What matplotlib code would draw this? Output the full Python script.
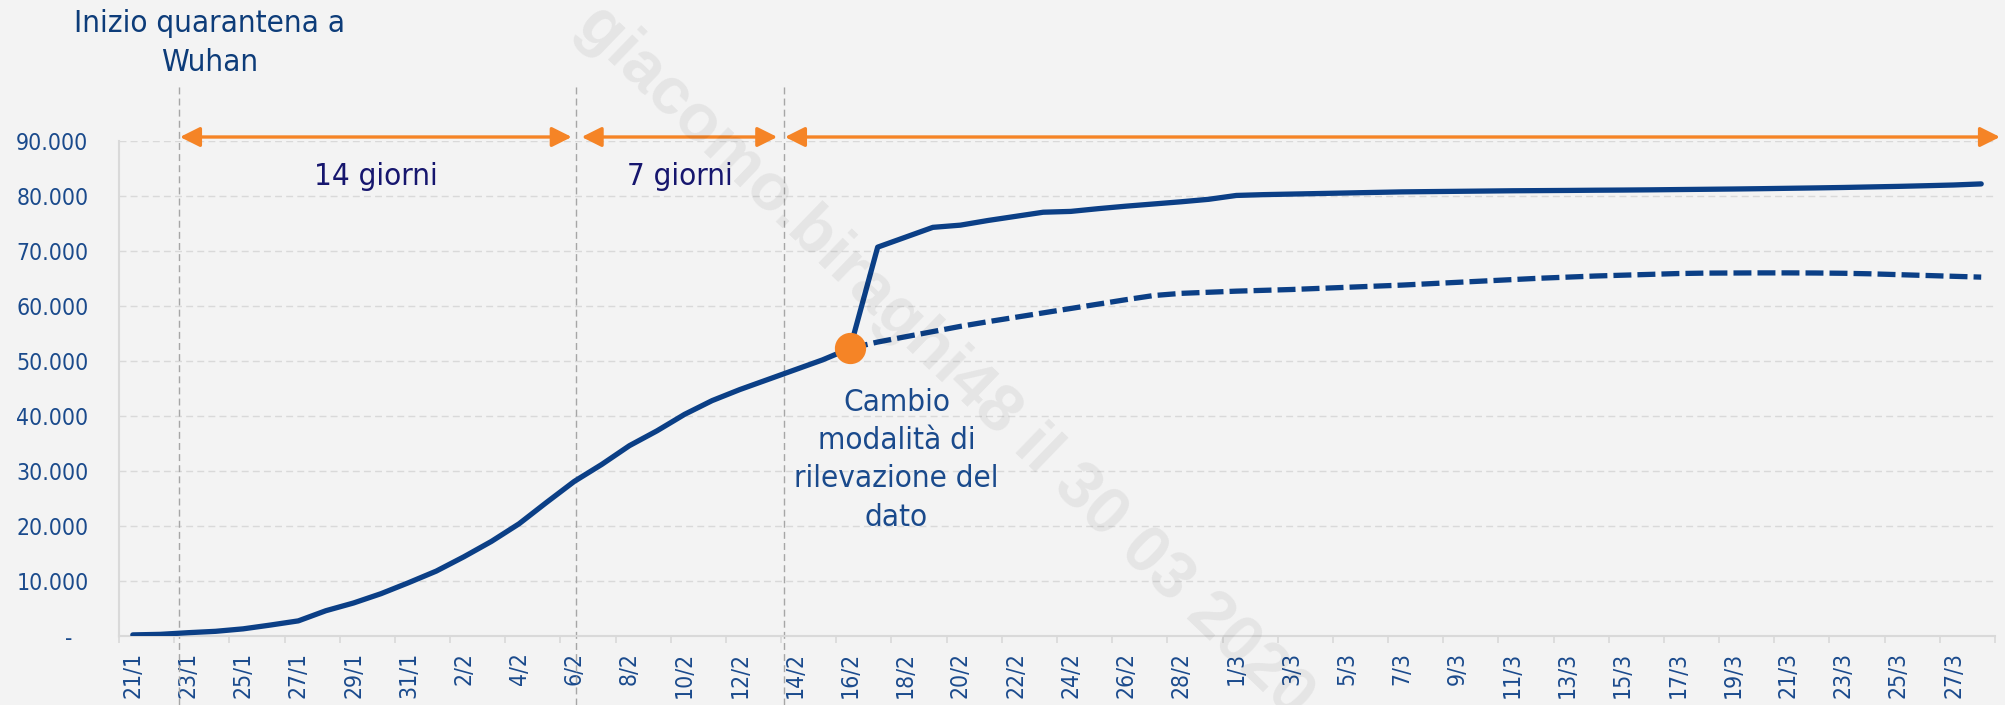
import matplotlib
matplotlib.use("Agg")
import matplotlib.pyplot as plt
from matplotlib import font_manager as fm
from matplotlib.ticker import FuncFormatter, FixedLocator
from matplotlib.transforms import blended_transform_factory
import pandas as pd

# ---------------- data ----------------
dates = pd.date_range("2020-01-21", "2020-03-28", freq="D")
date_labels = [f"{d.day}/{d.month}" for d in dates]

confirmed = [
    200, 300, 600, 850, 1300, 2000, 2750, 4600, 6000, 7700,
    9700, 11800, 14400, 17200, 20400, 24300, 28100, 31200, 34600, 37300,
    40300, 42800, 44800, 46600, 48400, 50200, 52300, 70700, 72500, 74300,
    74700, 75550, 76300, 77050, 77200, 77700, 78150, 78550, 78950, 79400,
    80100, 80250, 80350, 80450, 80550, 80650, 80750, 80800, 80850, 80900,
    80950, 80980, 81010, 81050, 81080, 81120, 81170, 81220, 81270, 81330,
    81400, 81470, 81550, 81650, 81750, 81870, 82000, 82200,
]

change_label = "16/2"
projection = [
    52300, 53450, 54400, 55350, 56300, 57150, 57950, 58750, 59550, 60350,
    61150, 61900, 62300, 62500, 62700, 62850, 63000, 63200, 63400, 63600,
    63800, 64050, 64300, 64550, 64800, 65050, 65250, 65450, 65600, 65750,
    65900, 65980, 66000, 66020, 66020, 66000, 65950, 65850, 65700, 65550,
    65400, 65250,
]

event_positions = [1.675, 16.065, 23.604]          # dashed vertical markers (category units)
span_arrows = [(1.711, 15.91), (16.27, 23.36), (23.64, 67.68)]
span_labels = ["14 giorni", "7 giorni", None]

title_text = "Inizio quarantena a\nWuhan"
change_text = "Cambio\nmodalità di\nrilevazione del\ndato"
watermark = "giacomo.biraghi48 il 30 03 2020"

# ---------------- style ----------------
BG = "#f3f3f3"
NAVY = "#0b3f86"
ORANGE = "#f58426"
TICKC = "#1a4a8c"
GRID = "#d9d9d9"

cond = [f for f in fm.fontManager.ttflist
        if f.name == "DejaVu Sans" and f.stretch == "condensed"
        and f.style == "normal" and str(f.weight) in ("400", "normal", "regular", "book")]
if cond:
    plt.rcParams["font.family"] = "DejaVu Sans"
    plt.rcParams["font.stretch"] = "condensed"
else:
    plt.rcParams["font.family"] = ["Liberation Sans", "DejaVu Sans"]

W, H = 2006, 705
fig = plt.figure(figsize=(W / 100, H / 100), dpi=100, facecolor=BG)
ax = fig.add_axes([119 / W, 69 / H, (1995 - 119) / W, (636 - 141) / H])
ax.set_facecolor(BG)

n = len(date_labels)
x = list(range(n))
start = date_labels.index(change_label)
xp = list(range(start, start + len(projection)))

ax.set_xlim(-0.5, n - 0.5)
ax.set_ylim(0, 90000)

# grid
ax.set_axisbelow(True)
ax.yaxis.set_major_locator(FixedLocator(range(0, 90001, 10000)))
ax.yaxis.grid(True, color=GRID, linewidth=1.0, linestyle=(0, (5, 3)))
ax.xaxis.grid(False)

# lines
ax.plot(x, confirmed, color=NAVY, lw=3.8, solid_capstyle="round",
        solid_joinstyle="round", zorder=3)
ax.plot(xp, projection, color=NAVY, lw=3.8, dashes=(3.4, 1.15),
        dash_capstyle="butt", zorder=3)
ax.plot([start], [confirmed[start]], marker="o", ms=21.5, color=ORANGE,
        mec=ORANGE, zorder=5, linestyle="none")

# spines
for s in ("top", "right"):
    ax.spines[s].set_visible(False)
for s in ("left", "bottom"):
    ax.spines[s].set_color(GRID)
    ax.spines[s].set_linewidth(1.5)

# x ticks
ax.set_xticks(range(0, n, 2))
ax.set_xticklabels([date_labels[i] for i in range(0, n, 2)], rotation=90)
ax.set_xticks([i - 0.5 for i in range(0, n + 1, 2)], minor=True)
ax.tick_params(axis="x", which="major", length=0, pad=11.5, labelsize=16.5,
               labelcolor=TICKC)
ax.tick_params(axis="x", which="minor", length=5.2, width=1.2, color=GRID)
for lbl in ax.get_xticklabels():
    lbl.set_va("top")

# y ticks
ax.yaxis.set_major_formatter(FuncFormatter(
    lambda v, p: "" if v == 0 else f"{int(v):,}".replace(",", ".")))
ax.tick_params(axis="y", length=0, pad=22, labelsize=16.5, labelcolor=TICKC)
ax.annotate("-", xy=(0, 0), xycoords=ax.get_yaxis_transform(),
            xytext=(-47, 0), textcoords="offset pixels",
            fontsize=16.5, color=TICKC, ha="right", va="center_baseline",
            annotation_clip=False)

# vertical event lines (extend beyond axes)
tr = blended_transform_factory(ax.transData, fig.transFigure)
for ev in event_positions:
    ax.plot([ev, ev], [0.0, 1 - 83 / H], transform=tr, color="#a6a6a6",
            lw=1.0, linestyle=(0, (5, 3)), clip_on=False, zorder=2)

# span arrows
y_arrow = 90000 + (141 - 137) / 55 * 10000
for (a0, a1), lab in zip(span_arrows, span_labels):
    ax.annotate("", xy=(a1, y_arrow), xytext=(a0, y_arrow),
                arrowprops=dict(arrowstyle="<|-|>,head_length=0.6,head_width=0.3",
                                color=ORANGE, lw=2.4, shrinkA=0, shrinkB=0,
                                mutation_scale=20),
                annotation_clip=False, zorder=4)
    if lab:
        ax.text((a0 + a1) / 2, 82000, lab, ha="center", va="baseline",
                fontsize=22.5, color="#16166e")

# annotation for change
ax.text(27.68, 45090, change_text, ha="center", va="top", fontsize=22.5,
        color=TICKC, linespacing=1.40, multialignment="center")

# title note
fig.text(210 / W, 1 - 9 / H, title_text, ha="center", va="top", fontsize=22.5,
         color="#0d3c79", linespacing=1.42, multialignment="center")

# watermark
fig.text(0.471, 0.487, watermark, rotation=-44, rotation_mode="anchor",
         ha="center", va="center", fontsize=48, fontweight="bold",
         family=["Liberation Sans", "DejaVu Sans"], color="black", alpha=0.06,
         zorder=10)

fig.savefig("out.png", dpi=100, facecolor=BG)
